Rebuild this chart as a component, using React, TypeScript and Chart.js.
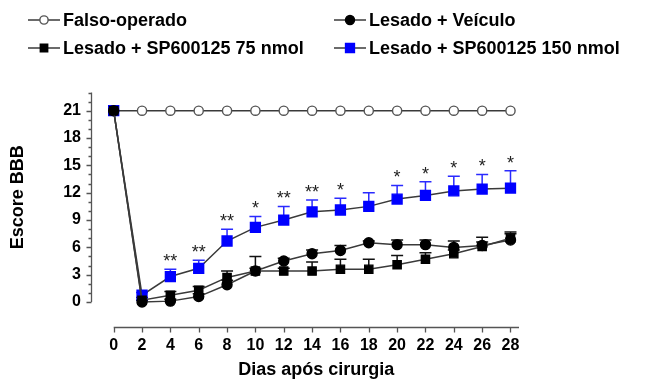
import React, { useEffect, useRef } from "react";
import { Chart, registerables } from "chart.js";

Chart.register(...registerables);

const days = [0, 2, 4, 6, 8, 10, 12, 14, 16, 18, 20, 22, 24, 26, 28];
const xTicks = [0, 2, 4, 6, 8, 10, 12, 14, 16, 18, 20, 22, 24, 26, 28];
const yTicks = [0, 3, 6, 9, 12, 15, 18, 21];

const falso = [21, 21, 21, 21, 21, 21, 21, 21, 21, 21, 21, 21, 21, 21, 21];
const veiculo = [21, 0.0, 0.1, 0.6, 1.9, 3.4, 4.5, 5.3, 5.65, 6.5, 6.3, 6.3, 6.0, 6.2, 6.8];
const veiculoErr = [0, 0.2, 0.2, 0.3, 0.5, 0.3, 0.3, 0.4, 0.55, 0.2, 0.5, 0.5, 0.7, 0.9, 0.9];
const sp75 = [21, 0.2, 0.75, 1.3, 2.7, 3.4, 3.4, 3.4, 3.6, 3.6, 4.1, 4.7, 5.3, 6.1, 7.0];
const sp75Err = [0, 0.3, 0.4, 0.4, 0.7, 1.6, 0.3, 1.0, 1.1, 1.1, 1.0, 0.7, 0.4, 0.5, 0.5];
const sp150 = [21, 0.75, 2.8, 3.7, 6.7, 8.2, 9.0, 9.9, 10.1, 10.5, 11.3, 11.7, 12.2, 12.4, 12.5];
const sp150Err = [0, 0.3, 0.8, 0.9, 1.3, 1.2, 1.5, 1.3, 1.3, 1.5, 1.5, 1.5, 1.6, 1.6, 1.9];
const signif = ["", "", "**", "**", "**", "*", "**", "**", "*", "", "*", "*", "*", "*", "*"];

const labels = [
  "Falso-operado",
  "Lesado + Veículo",
  "Lesado + SP600125 75 nmol",
  "Lesado + SP600125 150 nmol",
];

const FONT = "'Liberation Sans', Arial, sans-serif";
const LINE = "#3a3a3a";
const BLUE = "#0000ff";

type Series = {
  label: string;
  values: number[];
  err: number[] | null;
  errColor: string;
  style: "circle" | "rect";
  radius: number;
  fill: string;
  border: string;
};

const series: Series[] = [
  { label: labels[2], values: sp75, err: sp75Err, errColor: "#111", style: "rect", radius: 5.8, fill: "#000", border: "#000" },
  { label: labels[1], values: veiculo, err: veiculoErr, errColor: "#111", style: "circle", radius: 5, fill: "#000", border: "#000" },
  { label: labels[3], values: sp150, err: sp150Err, errColor: "#2a2aff", style: "rect", radius: 7, fill: BLUE, border: BLUE },
  { label: labels[0], values: falso, err: null, errColor: "#111", style: "circle", radius: 4.6, fill: "#fff", border: "#555" },
];

function drawMarker(ctx: CanvasRenderingContext2D, s: Series, x: number, y: number, scale = 1) {
  ctx.save();
  ctx.fillStyle = s.fill;
  ctx.strokeStyle = s.border;
  ctx.lineWidth = 1.4;
  ctx.beginPath();
  const r = s.radius * scale;
  if (s.style === "circle") {
    ctx.arc(x, y, r, 0, Math.PI * 2);
  } else {
    const h = r * Math.SQRT1_2;
    ctx.rect(x - h, y - h, 2 * h, 2 * h);
  }
  ctx.fill();
  ctx.stroke();
  ctx.restore();
}

const overlay = {
  id: "overlay",
  beforeDatasetsDraw(chart: any) {
    const { ctx, scales } = chart;
    const xs = scales.x;
    const ys = scales.y;
    ctx.save();
    series.forEach((s) => {
      if (!s.err) return;
      ctx.strokeStyle = s.errColor;
      ctx.lineWidth = 1.5;
      s.values.forEach((v, i) => {
        const e = s.err![i];
        if (!e) return;
        const px = xs.getPixelForValue(days[i]);
        const py = ys.getPixelForValue(v);
        const pt = ys.getPixelForValue(v + e);
        ctx.beginPath();
        ctx.moveTo(px, py);
        ctx.lineTo(px, pt);
        ctx.moveTo(px - 6, pt);
        ctx.lineTo(px + 6, pt);
        ctx.stroke();
      });
    });
    ctx.restore();
  },
  afterDatasetsDraw(chart: any) {
    const { ctx, scales, chartArea } = chart;
    const xs = scales.x;
    const ys = scales.y;
    ctx.save();
    // axes
    ctx.strokeStyle = "#555";
    ctx.lineWidth = 1.3;
    const ax = Math.round(chartArea.left) + 0.5;
    const y0 = ys.getPixelForValue(0);
    ctx.beginPath();
    ctx.moveTo(ax, y0);
    ctx.lineTo(ax, chartArea.top);
    for (let v = 0; v <= 23; v++) {
      const py = Math.round(ys.getPixelForValue(v)) + 0.5;
      const len = yTicks.includes(v) ? 5 : 3;
      ctx.moveTo(ax - len, py);
      ctx.lineTo(ax, py);
    }
    const ay = Math.round(chartArea.bottom) + 0.5;
    ctx.moveTo(xs.getPixelForValue(0), ay);
    ctx.lineTo(chartArea.right, ay);
    xTicks.forEach((d) => {
      const px = Math.round(xs.getPixelForValue(d)) + 0.5;
      ctx.moveTo(px, ay);
      ctx.lineTo(px, ay + 5);
    });
    ctx.stroke();

    // significance
    ctx.fillStyle = "#222";
    ctx.font = `18px ${FONT}`;
    ctx.textAlign = "center";
    ctx.textBaseline = "middle";
    signif.forEach((t, i) => {
      if (!t) return;
      const px = xs.getPixelForValue(days[i]);
      const pt = ys.getPixelForValue(sp150[i] + sp150Err[i]);
      ctx.fillText(t, px, pt - 7);
    });

    // titles
    ctx.fillStyle = "#000";
    ctx.font = `bold 18px ${FONT}`;
    ctx.textAlign = "center";
    ctx.textBaseline = "middle";
    ctx.fillText("Dias após cirurgia", (xs.getPixelForValue(0) + chartArea.right) / 2, 370);
    ctx.save();
    ctx.translate(18, (y0 + chartArea.top) / 2);
    ctx.rotate(-Math.PI / 2);
    ctx.fillText("Escore BBB", 0, 0);
    ctx.restore();

    // legend
    const legendItems = [
      { s: series[3], x: 28, y: 20 },
      { s: series[1], x: 334, y: 20 },
      { s: series[0], x: 28, y: 48 },
      { s: series[2], x: 334, y: 48 },
    ];
    legendItems.forEach(({ s, x, y }) => {
      ctx.strokeStyle = LINE;
      ctx.lineWidth = 1.5;
      ctx.beginPath();
      ctx.moveTo(x, y);
      ctx.lineTo(x + 32, y);
      ctx.stroke();
      drawMarker(ctx, s, x + 16, y, 0.9);
      ctx.fillStyle = "#000";
      ctx.font = `bold 18px ${FONT}`;
      ctx.textAlign = "left";
      ctx.textBaseline = "middle";
      ctx.fillText(s.label, x + 35, y + 1);
    });
    ctx.restore();
  },
};

export default function App() {
  const ref = useRef<HTMLCanvasElement | null>(null);
  useEffect(() => {
    document.body.style.margin = "0";
    const canvas = ref.current!;
    const chart = new Chart(canvas, {
      type: "line",
      data: {
        datasets: series.map((s) => ({
          label: s.label,
          data: days.map((d, i) => ({ x: d, y: s.values[i] })),
          borderColor: LINE,
          borderWidth: 1.5,
          pointStyle: s.style,
          pointRadius: s.radius,
          pointBackgroundColor: s.fill,
          pointBorderColor: s.border,
          pointBorderWidth: 1.4,
          tension: 0,
          fill: false,
        })),
      },
      options: {
        animation: false,
        responsive: false,
        maintainAspectRatio: false,
        layout: { padding: { left: 0, right: 127, top: 92.5, bottom: 0 } },
        plugins: { legend: { display: false }, tooltip: { enabled: false } },
        scales: {
          x: {
            type: "linear",
            min: -1.6,
            max: 28.6,
            grid: { display: false, drawTicks: false },
            border: { display: false },
            ticks: {
              autoSkip: false,
              maxRotation: 0,
              padding: 9,
              color: "#000",
              font: { family: FONT, weight: "bold", size: 16 },
            },
            afterBuildTicks: (s: any) => {
              s.ticks = xTicks.map((v) => ({ value: v }));
            },
            afterFit: (s: any) => {
              s.height = 52;
            },
          },
          y: {
            type: "linear",
            min: -2.74,
            max: 23,
            grid: { display: false, drawTicks: false },
            border: { display: false },
            ticks: {
              autoSkip: false,
              padding: 10,
              color: "#000",
              font: { family: FONT, weight: "bold", size: 16 },
            },
            afterBuildTicks: (s: any) => {
              s.ticks = yTicks.map((v) => ({ value: v }));
            },
            afterFit: (s: any) => {
              s.width = 91;
            },
          },
        },
      },
      plugins: [overlay],
    } as any);
    return () => chart.destroy();
  }, []);
  return <canvas ref={ref} width={646} height={379} style={{ display: "block" }} />;
}
